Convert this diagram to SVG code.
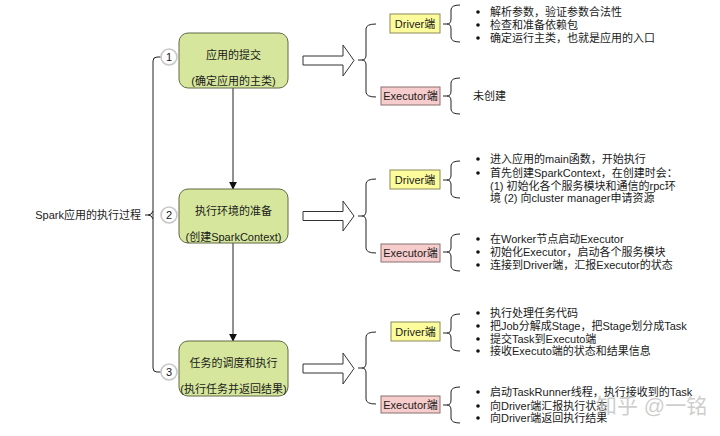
<svg xmlns="http://www.w3.org/2000/svg" width="720" height="436" viewBox="0 0 720 436">
<style>
text{font-family:"Liberation Sans","Noto Sans CJK SC",sans-serif;font-size:11px;fill:#1a1a1a}
.box{fill:#d6e79d;stroke:#5f6b45;stroke-width:1}
.drv{fill:#fdfc9d;stroke:#8a8a5a;stroke-width:1}
.exe{fill:#f6cdcc;stroke:#8a7070;stroke-width:1}
.num{fill:#fff;stroke:#c8c8c8;stroke-width:1.6}
.ln{fill:none;stroke:#222;stroke-width:1}
.hol{fill:#fff;stroke:#333;stroke-width:1}
.c{text-anchor:middle}
.wm{font-size:21px;fill:#bdbdbd;fill-opacity:0.75}
</style>
<defs>
<marker id="ah" viewBox="0 0 10 10" refX="9" refY="5" markerWidth="8" markerHeight="8" markerUnits="userSpaceOnUse" orient="auto">
<path d="M0,0 L10,5 L0,10 Z" fill="#111"/>
</marker>
</defs>
<rect width="720" height="436" fill="#fff"/>

<g id="connectors">
<path class="ln" d="M161,57 H157 Q153,57 153,61 V368 Q153,372 157,372 H161"/>
<path class="ln" d="M145,215 H148 Q152,215 153,211 M148,215 Q152,215 153,219"/>
<line class="ln" x1="233" y1="88" x2="233" y2="189" marker-end="url(#ah)"/>
<line class="ln" x1="233" y1="243" x2="233" y2="341" marker-end="url(#ah)"/>
<polygon class="hol" points="303,56 343,56 343,45 354,60.5 343,76 343,65 303,65"/>
<polygon class="hol" points="303,211.5 343,211.5 343,201 354,216 343,231 343,220.5 303,220.5"/>
<polygon class="hol" points="303,364 343,364 343,353 354,368.5 343,384 343,373 303,373"/>
<path class="ln" d="M358,60 H362 Q366,60 366,55 V29 Q366,24 376,24 M362,60 Q366,60 366,65 V92 Q366,97 376,97"/>
<path class="ln" d="M358,216 H362 Q366,216 366,211 V184 Q366,179 376,179 M362,216 Q366,216 366,221 V248 Q366,253 376,253"/>
<path class="ln" d="M358,368 H362 Q366,368 366,363 V337 Q366,332 376,332 M362,368 Q366,368 366,373 V399 Q366,404 376,404"/>
<path class="ln" d="M443,24 H447 Q451,24 451,19 V10 Q451,5 460,5 M447,24 Q451,24 451,29 V37 Q451,42 460,42"/>
<path class="ln" d="M443,96 H447 Q451,96 451,91 V83 Q451,78 460,78 M447,96 Q451,96 451,101 V109 Q451,114 460,114"/>
<path class="ln" d="M443,180 H447 Q451,180 451,175 V166 Q451,161 460,161 M447,180 Q451,180 451,185 V193 Q451,198 460,198"/>
<path class="ln" d="M443,252 H447 Q451,252 451,247 V239 Q451,234 460,234 M447,252 Q451,252 451,257 V266 Q451,271 460,271"/>
<path class="ln" d="M443,333 H447 Q451,333 451,328 V319 Q451,314 460,314 M447,333 Q451,333 451,338 V346 Q451,351 460,351"/>
<path class="ln" d="M443,405 H447 Q451,405 451,400 V392 Q451,387 460,387 M447,405 Q451,405 451,410 V418 Q451,423 460,423"/>
</g>

<g id="root"><text x="141" y="219" text-anchor="end">Spark应用的执行过程</text></g>

<g id="step1">
<rect class="box" x="179" y="33" width="109" height="55" rx="9"/>
<text class="c" x="233.5" y="59">应用的提交</text>
<text class="c" x="233.5" y="85">(确定应用的主类)</text>
<circle class="num" cx="169" cy="57" r="8"/>
<text class="c" x="169" y="61">1</text>
</g>
<g id="step2">
<rect class="box" x="179" y="189" width="109" height="54" rx="9"/>
<text class="c" x="233.5" y="215">执行环境的准备</text>
<text class="c" x="233.5" y="241">(创建SparkContext)</text>
<circle class="num" cx="169" cy="215" r="8"/>
<text class="c" x="169" y="219">2</text>
</g>
<g id="step3">
<rect class="box" x="179" y="341" width="109" height="55" rx="9"/>
<text class="c" x="233.5" y="367">任务的调度和执行</text>
<text class="c" x="233.5" y="393">(执行任务并返回结果)</text>
<circle class="num" cx="169" cy="372" r="8"/>
<text class="c" x="169" y="376">3</text>
</g>

<g id="driver1">
<rect class="drv" x="390" y="14" width="50" height="19"/>
<text class="c" x="415" y="28">Driver端</text>
</g>
<g id="executor1">
<rect class="exe" x="381" y="87" width="59" height="18"/>
<text class="c" x="410.5" y="100">Executor端</text>
</g>
<g id="driver2">
<rect class="drv" x="390" y="170" width="50" height="19"/>
<text class="c" x="415" y="184">Driver端</text>
</g>
<g id="executor2">
<rect class="exe" x="381" y="244" width="59" height="18"/>
<text class="c" x="410.5" y="257">Executor端</text>
</g>
<g id="driver3">
<rect class="drv" x="391" y="322" width="49" height="19"/>
<text class="c" x="415.5" y="336">Driver端</text>
</g>
<g id="executor3">
<rect class="exe" x="381" y="396" width="59" height="17"/>
<text class="c" x="410.5" y="409">Executor端</text>
</g>

<g id="notes1">
<circle cx="478" cy="12" r="1.8" fill="#111"/><text x="490" y="16">解析参数，验证参数合法性</text>
<circle cx="478" cy="25" r="1.8" fill="#111"/><text x="490" y="29">检查和准备依赖包</text>
<circle cx="478" cy="38" r="1.8" fill="#111"/><text x="490" y="42">确定运行主类，也就是应用的入口</text>
</g>
<g id="notes1e"><text x="473" y="100">未创建</text></g>
<g id="notes2">
<circle cx="478" cy="159" r="1.8" fill="#111"/><text x="490" y="163">进入应用的main函数，开始执行</text>
<circle cx="478" cy="173" r="1.8" fill="#111"/><text x="490" y="177">首先创建SparkContext，在创建时会：</text>
<text x="490" y="190">(1) 初始化各个服务模块和通信的rpc环</text>
<text x="490" y="202">境 (2) 向cluster manager申请资源</text>
</g>
<g id="notes2e">
<circle cx="478" cy="239" r="1.8" fill="#111"/><text x="490" y="243">在Worker节点启动Executor</text>
<circle cx="478" cy="252" r="1.8" fill="#111"/><text x="490" y="256">初始化Executor，启动各个服务模块</text>
<circle cx="478" cy="265" r="1.8" fill="#111"/><text x="490" y="269">连接到Driver端，汇报Executor的状态</text>
</g>
<g id="notes3">
<circle cx="478" cy="313" r="1.8" fill="#111"/><text x="490" y="317">执行处理任务代码</text>
<circle cx="478" cy="326" r="1.8" fill="#111"/><text x="490" y="330">把Job分解成Stage，把Stage划分成Task</text>
<circle cx="478" cy="339" r="1.8" fill="#111"/><text x="490" y="343">提交Task到Executo端</text>
<circle cx="478" cy="351" r="1.8" fill="#111"/><text x="490" y="355">接收Executo端的状态和结果信息</text>
</g>
<g id="notes3e">
<circle cx="478" cy="392" r="1.8" fill="#111"/><text x="490" y="396">启动TaskRunner线程，执行接收到的Task</text>
<circle cx="478" cy="406" r="1.8" fill="#111"/><text x="490" y="410">向Driver端汇报执行状态</text>
<circle cx="478" cy="418" r="1.8" fill="#111"/><text x="490" y="422">向Driver端返回执行结果</text>
</g>
<g id="watermark"><text class="wm" x="596" y="413">知乎 @一铭</text></g>
</svg>
